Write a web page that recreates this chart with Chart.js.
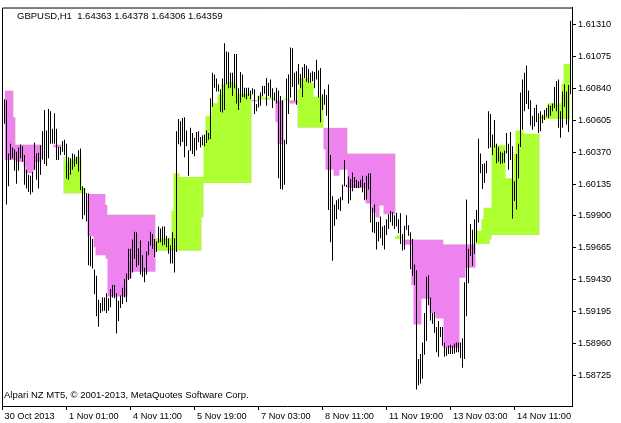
<!DOCTYPE html>
<html>
<head>
<meta charset="utf-8">
<script src="https://cdn.jsdelivr.net/npm/chart.js@4.4.1/dist/chart.umd.min.js"></script>
<style>
  html, body { margin: 0; padding: 0; background: #fff; }
  canvas { display: block; }
</style>
</head>
<body>
<canvas id="chart" width="621" height="423"></canvas>
<script>
// GBPUSD H1 bars, one per hour
const highs = [
  1.60759, 1.60752, 1.60360, 1.60432, 1.60403, 1.60389, 1.60372, 1.60403, 1.60425, 1.60413, 1.60348, 1.60239,
  1.60203, 1.60195, 1.60224, 1.60440, 1.60360, 1.60365, 1.60420, 1.60524, 1.60679, 1.60529, 1.60687, 1.60670,
  1.60541, 1.60655, 1.60541, 1.60408, 1.60408, 1.60452, 1.60461, 1.60432, 1.60331, 1.60324, 1.60360, 1.60353,
  1.60336, 1.60384, 1.60396, 1.60118, 1.60106, 1.60069, 1.60065, 1.59750, 1.59731, 1.59506, 1.59460, 1.59283,
  1.59259, 1.59300, 1.59300, 1.59331, 1.59295, 1.59363, 1.59392, 1.59392, 1.59331, 1.59276, 1.59314, 1.59372,
  1.59435, 1.59477, 1.59658, 1.59658, 1.59726, 1.59784, 1.59779, 1.59663, 1.59719, 1.59610, 1.59518, 1.59639,
  1.59711, 1.59784, 1.59767, 1.59731, 1.59711, 1.59823, 1.59808, 1.59823, 1.59823, 1.59755, 1.59735, 1.59682,
  1.59779, 1.59735, 1.60524, 1.60614, 1.60597, 1.60621, 1.60626, 1.60529, 1.60384, 1.60549, 1.60510, 1.60476,
  1.60517, 1.60524, 1.60481, 1.60493, 1.60500, 1.60529, 1.60510, 1.60766, 1.60953, 1.60941, 1.60912, 1.60868,
  1.60832, 1.60912, 1.61171, 1.61110, 1.61105, 1.60953, 1.60953, 1.61091, 1.61091, 1.60839, 1.60960, 1.60941,
  1.60844, 1.60844, 1.60844, 1.60824, 1.60839, 1.60832, 1.60723, 1.60783, 1.60808, 1.60856, 1.60856, 1.60916,
  1.60880, 1.60904, 1.60839, 1.60808, 1.60844, 1.60824, 1.60783, 1.60752, 1.60461, 1.60912, 1.60941, 1.61139,
  1.61134, 1.60953, 1.60965, 1.61018, 1.60945, 1.60994, 1.61018, 1.61008, 1.60984, 1.60953, 1.60965, 1.60960,
  1.61050, 1.60970, 1.60989, 1.60795, 1.60832, 1.60791, 1.60868, 1.60348, 1.60045, 1.59985, 1.60016, 1.60026,
  1.60040, 1.60130, 1.60311, 1.60130, 1.60190, 1.60171, 1.60219, 1.60186, 1.60166, 1.60154, 1.60166, 1.60195,
  1.60142, 1.60195, 1.60215, 1.60215, 1.59960, 1.59985, 1.59856, 1.59856, 1.59895, 1.59823, 1.59832, 1.59876,
  1.59912, 1.59936, 1.59929, 1.59905, 1.59924, 1.59876, 1.59919, 1.59767, 1.59827, 1.59905, 1.59832, 1.59779,
  1.59731, 1.59542, 1.59501, 1.58847, 1.58884, 1.58968, 1.59186, 1.59452, 1.59464, 1.59300, 1.59186, 1.59193,
  1.59082, 1.59126, 1.59082, 1.59082, 1.58968, 1.58932, 1.58944, 1.58951, 1.58944, 1.58961, 1.58968, 1.58968,
  1.58968, 1.59000, 1.59411, 1.60021, 1.59658, 1.59840, 1.59798, 1.59876, 1.59944, 1.60469, 1.60360, 1.60282,
  1.60287, 1.60307, 1.60670, 1.60650, 1.60500, 1.60607, 1.60432, 1.60408, 1.60372, 1.60365, 1.60379, 1.60510,
  1.60432, 1.60517, 1.60413, 1.60154, 1.60355, 1.60432, 1.60808, 1.60904, 1.60953, 1.61008, 1.60824, 1.60752,
  1.60638, 1.60694, 1.60718, 1.60655, 1.60670, 1.60645, 1.60679, 1.60694, 1.60718, 1.60711, 1.60728, 1.60849,
  1.60892, 1.60904, 1.60670, 1.60815, 1.60868, 1.60815, 1.60863, 1.61337
];
const lows = [
  1.60578, 1.59985, 1.60118, 1.60316, 1.60324, 1.60232, 1.60137, 1.60234, 1.60324, 1.60299, 1.60130, 1.60101,
  1.60077, 1.60057, 1.60074, 1.60239, 1.60166, 1.60101, 1.60203, 1.60316, 1.60282, 1.60268, 1.60324, 1.60432,
  1.60432, 1.60432, 1.60311, 1.60311, 1.60348, 1.60372, 1.60348, 1.60176, 1.60166, 1.60203, 1.60239, 1.60263,
  1.60282, 1.60227, 1.60089, 1.59876, 1.59905, 1.59859, 1.59537, 1.59530, 1.59513, 1.59324, 1.59162, 1.59084,
  1.59186, 1.59198, 1.59203, 1.59186, 1.59203, 1.59227, 1.59300, 1.59295, 1.59034, 1.59126, 1.59222, 1.59251,
  1.59300, 1.59266, 1.59428, 1.59440, 1.59484, 1.59585, 1.59525, 1.59537, 1.59469, 1.59452, 1.59411, 1.59469,
  1.59610, 1.59682, 1.59658, 1.59598, 1.59634, 1.59702, 1.59706, 1.59682, 1.59687, 1.59670, 1.59622, 1.59549,
  1.59549, 1.59484, 1.59634, 1.60428, 1.60413, 1.60445, 1.60331, 1.60413, 1.60195, 1.60379, 1.60355, 1.60340,
  1.60384, 1.60442, 1.60403, 1.60420, 1.60413, 1.60437, 1.60461, 1.60466, 1.60703, 1.60844, 1.60815, 1.60815,
  1.60667, 1.60662, 1.60679, 1.60868, 1.60839, 1.60844, 1.60783, 1.60839, 1.60728, 1.60679, 1.60735, 1.60776,
  1.60771, 1.60759, 1.60783, 1.60759, 1.60795, 1.60650, 1.60670, 1.60699, 1.60711, 1.60783, 1.60800, 1.60711,
  1.60783, 1.60771, 1.60694, 1.60747, 1.60728, 1.60178, 1.60098, 1.60094, 1.60130, 1.60428, 1.60650, 1.60771,
  1.60849, 1.60747, 1.60718, 1.60868, 1.60839, 1.60776, 1.60916, 1.60887, 1.60880, 1.60880, 1.60892, 1.60839,
  1.60904, 1.60771, 1.60590, 1.60679, 1.60718, 1.60638, 1.59944, 1.59706, 1.59571, 1.59827, 1.59876, 1.59948,
  1.59936, 1.60016, 1.60118, 1.60113, 1.59992, 1.60016, 1.60081, 1.60106, 1.60106, 1.60106, 1.60113, 1.60074,
  1.60016, 1.60021, 1.60094, 1.59852, 1.59779, 1.59774, 1.59653, 1.59711, 1.59735, 1.59682, 1.59653, 1.59760,
  1.59803, 1.59856, 1.59827, 1.59803, 1.59823, 1.59774, 1.59694, 1.59646, 1.59653, 1.59798, 1.59755, 1.59508,
  1.59460, 1.59392, 1.58622, 1.58654, 1.58666, 1.58702, 1.58879, 1.58980, 1.59242, 1.59130, 1.59106, 1.59041,
  1.58896, 1.58864, 1.59009, 1.58944, 1.58864, 1.58871, 1.58884, 1.58884, 1.58884, 1.58888, 1.58896, 1.58896,
  1.58855, 1.58782, 1.58847, 1.59162, 1.59404, 1.59605, 1.59532, 1.59622, 1.59706, 1.59852, 1.60215, 1.60098,
  1.60142, 1.60215, 1.60396, 1.60403, 1.60348, 1.60403, 1.60287, 1.60299, 1.60282, 1.60287, 1.60292, 1.60360,
  1.60239, 1.60311, 1.59881, 1.60009, 1.59948, 1.60178, 1.60408, 1.60534, 1.60670, 1.60723, 1.60687, 1.60566,
  1.60534, 1.60558, 1.60590, 1.60510, 1.60524, 1.60582, 1.60607, 1.60631, 1.60621, 1.60638, 1.60670, 1.60694,
  1.60670, 1.60549, 1.60476, 1.60549, 1.60703, 1.60573, 1.60517, 1.60795
];

// indicator: fast line and step line, area between them coloured by which is on top
const fastLine = [
  1.60311, 1.60311, 1.60311, 1.60311, 1.60311, 1.60311, 1.60299, 1.60299, 1.60299, 1.60299, 1.60263, 1.60215,
  1.60215, 1.60215, 1.60215, 1.60239, 1.60299, 1.60299, 1.60299, 1.60425, 1.60425, 1.60425, 1.60425, 1.60425,
  1.60425, 1.60403, 1.60403, 1.60403, 1.60403, 1.60408, 1.60336, 1.60299, 1.60299, 1.60316, 1.60316, 1.60316,
  1.60336, 1.60336, 1.60331, 1.60106, 1.60106, 1.60065, 1.59750, 1.59750, 1.59750, 1.59670, 1.59610, 1.59610,
  1.59610, 1.59610, 1.59610, 1.59585, 1.59307, 1.59307, 1.59307, 1.59307, 1.59307, 1.59307, 1.59307, 1.59307,
  1.59307, 1.59307, 1.59440, 1.59440, 1.59489, 1.59489, 1.59489, 1.59489, 1.59489, 1.59489, 1.59489, 1.59489,
  1.59489, 1.59489, 1.59489, 1.59489, 1.59735, 1.59735, 1.59735, 1.59735, 1.59735, 1.59735, 1.59735, 1.59735,
  1.59936, 1.60215, 1.60215, 1.60215, 1.60186, 1.60186, 1.60186, 1.60186, 1.60186, 1.60186, 1.60186, 1.60186,
  1.60186, 1.60186, 1.60186, 1.60186, 1.60432, 1.60638, 1.60638, 1.60638, 1.60730, 1.60730, 1.60730, 1.60795,
  1.60795, 1.60868, 1.60868, 1.60868, 1.60885, 1.60885, 1.60885, 1.60885, 1.60868, 1.60800, 1.60800, 1.60800,
  1.60800, 1.60800, 1.60800, 1.60800, 1.60745, 1.60745, 1.60745, 1.60786, 1.60786, 1.60786, 1.60771, 1.60771,
  1.60771, 1.60771, 1.60771, 1.60771, 1.60590, 1.60428, 1.60428, 1.60428, 1.60762, 1.60762, 1.60762, 1.60728,
  1.60728, 1.60728, 1.60728, 1.60832, 1.60916, 1.60916, 1.60916, 1.60916, 1.60916, 1.60880, 1.60880, 1.60778,
  1.60778, 1.60778, 1.60778, 1.60778, 1.60389, 1.60239, 1.60239, 1.60239, 1.60239, 1.60195, 1.60195, 1.60195,
  1.60239, 1.60239, 1.60239, 1.60239, 1.60106, 1.60106, 1.60106, 1.60106, 1.60106, 1.60106, 1.60106, 1.60106,
  1.60106, 1.59992, 1.59992, 1.59992, 1.59924, 1.59924, 1.59888, 1.59888, 1.59977, 1.59977, 1.59912, 1.59912,
  1.59912, 1.59912, 1.59912, 1.59912, 1.59755, 1.59755, 1.59755, 1.59726, 1.59687, 1.59687, 1.59687, 1.59687,
  1.59392, 1.59101, 1.59101, 1.59101, 1.59101, 1.59290, 1.59290, 1.59290, 1.59290, 1.59186, 1.59186, 1.59186,
  1.59145, 1.59145, 1.59145, 1.59145, 1.58927, 1.58927, 1.58927, 1.58927, 1.58927, 1.58927, 1.58927, 1.58927,
  1.59445, 1.59445, 1.59445, 1.59518, 1.59518, 1.59518, 1.59518, 1.59518, 1.59791, 1.59791, 1.59791, 1.59876,
  1.59960, 1.59960, 1.59960, 1.59960, 1.60420, 1.60420, 1.60420, 1.60420, 1.60420, 1.60420, 1.60420, 1.60178,
  1.60178, 1.60178, 1.60178, 1.60355, 1.60529, 1.60529, 1.60529, 1.60529, 1.60505, 1.60505, 1.60505, 1.60505,
  1.60505, 1.60505, 1.60505, 1.60505, 1.60638, 1.60638, 1.60638, 1.60638, 1.60730, 1.60730, 1.60730, 1.60730,
  1.60730, 1.60730, 1.60730, 1.60873, 1.61018, 1.61018, 1.61018, 1.61018
];
const stepLine = [
  1.60824, 1.60824, 1.60824, 1.60824, 1.60824, 1.60626, 1.60425, 1.60425, 1.60425, 1.60425, 1.60425, 1.60425,
  1.60425, 1.60425, 1.60425, 1.60425, 1.60425, 1.60425, 1.60425, 1.60425, 1.60425, 1.60425, 1.60425, 1.60425,
  1.60425, 1.60425, 1.60425, 1.60425, 1.60425, 1.60408, 1.60065, 1.60065, 1.60065, 1.60065, 1.60065, 1.60065,
  1.60065, 1.60065, 1.60065, 1.60065, 1.60065, 1.60065, 1.60062, 1.60062, 1.60062, 1.60062, 1.60062, 1.60062,
  1.60062, 1.60062, 1.60062, 1.59982, 1.59910, 1.59910, 1.59910, 1.59910, 1.59910, 1.59910, 1.59910, 1.59910,
  1.59910, 1.59910, 1.59910, 1.59910, 1.59910, 1.59910, 1.59910, 1.59910, 1.59910, 1.59910, 1.59910, 1.59910,
  1.59910, 1.59910, 1.59910, 1.59910, 1.59644, 1.59644, 1.59644, 1.59644, 1.59644, 1.59644, 1.59644, 1.59644,
  1.59644, 1.59644, 1.59644, 1.59644, 1.59644, 1.59644, 1.59644, 1.59644, 1.59644, 1.59644, 1.59644, 1.59644,
  1.59644, 1.59644, 1.59644, 1.59888, 1.60142, 1.60142, 1.60142, 1.60142, 1.60142, 1.60142, 1.60142, 1.60142,
  1.60142, 1.60142, 1.60142, 1.60142, 1.60142, 1.60142, 1.60142, 1.60142, 1.60142, 1.60142, 1.60142, 1.60142,
  1.60142, 1.60142, 1.60142, 1.60142, 1.60754, 1.60754, 1.60754, 1.60757, 1.60757, 1.60757, 1.60757, 1.60757,
  1.60757, 1.60757, 1.60757, 1.60757, 1.60752, 1.60752, 1.60752, 1.60752, 1.60754, 1.60754, 1.60754, 1.60752,
  1.60752, 1.60752, 1.60752, 1.60549, 1.60549, 1.60549, 1.60549, 1.60549, 1.60549, 1.60549, 1.60549, 1.60549,
  1.60549, 1.60549, 1.60549, 1.60549, 1.60549, 1.60549, 1.60549, 1.60549, 1.60549, 1.60549, 1.60549, 1.60549,
  1.60549, 1.60549, 1.60549, 1.60549, 1.60360, 1.60360, 1.60360, 1.60360, 1.60360, 1.60360, 1.60360, 1.60360,
  1.60360, 1.60360, 1.60360, 1.60360, 1.60360, 1.60360, 1.60360, 1.60360, 1.60360, 1.60360, 1.60360, 1.60360,
  1.60360, 1.60360, 1.60360, 1.60360, 1.59731, 1.59731, 1.59731, 1.59726, 1.59726, 1.59726, 1.59726, 1.59726,
  1.59726, 1.59726, 1.59726, 1.59726, 1.59726, 1.59726, 1.59726, 1.59726, 1.59726, 1.59726, 1.59726, 1.59726,
  1.59726, 1.59726, 1.59726, 1.59726, 1.59692, 1.59692, 1.59692, 1.59692, 1.59692, 1.59692, 1.59692, 1.59692,
  1.59692, 1.59692, 1.59692, 1.59692, 1.59692, 1.59692, 1.59692, 1.59692, 1.59692, 1.59692, 1.59694, 1.59694,
  1.59694, 1.59694, 1.59694, 1.59726, 1.59760, 1.59760, 1.59760, 1.59760, 1.59760, 1.59760, 1.59760, 1.59760,
  1.59760, 1.59760, 1.59760, 1.59760, 1.59760, 1.59760, 1.59760, 1.59760, 1.59760, 1.59760, 1.59760, 1.59760,
  1.59760, 1.59760, 1.59760, 1.59760, 1.60614, 1.60614, 1.60614, 1.60614, 1.60614, 1.60614, 1.60614, 1.60614,
  1.60614, 1.60614, 1.60614, 1.60614, 1.60614, 1.60614, 1.60614, 1.60614
];

const priceTicks = [1.58725, 1.58960, 1.59195, 1.59430, 1.59665, 1.59900, 1.60135, 1.60370, 1.60605, 1.60840, 1.61075, 1.61310];
const timeTickBars = [-1.25, 31, 63, 95, 127, 159, 191, 223, 255];
const timeTickLabels = ['30 Oct 2013', '1 Nov 01:00', '4 Nov 11:00', '5 Nov 19:00', '7 Nov 03:00', '8 Nov 11:00', '11 Nov 19:00', '13 Nov 03:00', '14 Nov 11:00'];

const headerText = 'GBPUSD,H1  1.64363 1.64378 1.64306 1.64359';
const footerText = 'Alpari NZ MT5, \u00a9 2001-2013, MetaQuotes Software Corp.';

const UP_COLOR = '#adff2f';
const DOWN_COLOR = '#ee82ee';
const FAMILY = '"Liberation Sans", Arial, sans-serif';
const AXIS_FONT = { family: FAMILY, size: 9.2 };
const NOTE_FONT = '9.5px ' + FAMILY;

const framePlugin = {
    id: 'mtFrame',
    afterDraw(chart) {
        const { ctx, chartArea } = chart;
        ctx.save();
        ctx.strokeStyle = '#000';
        ctx.lineWidth = 1;
        ctx.beginPath();
        ctx.moveTo(chartArea.left + 0.5, chartArea.bottom);
        ctx.lineTo(chartArea.left + 0.5, chartArea.top + 0.5);
        ctx.lineTo(chartArea.right, chartArea.top + 0.5);
        ctx.stroke();
        ctx.fillStyle = '#000';
        ctx.font = NOTE_FONT;
        ctx.textBaseline = 'alphabetic';
        ctx.fillText(headerText, chartArea.left + 15, chartArea.top + 11.5);
        ctx.fillText(footerText, chartArea.left + 2, chartArea.bottom - 8.5);
        ctx.restore();
    }
};

const canvas = document.getElementById('chart');
new Chart(canvas.getContext('2d'), {
    type: 'bar',
    data: {
        datasets: [
            {
                type: 'bar',
                data: highs.map((h, i) => ({ x: i, y: [lows[i], h] })),
                backgroundColor: '#000',
                borderWidth: 0,
                barThickness: 1,
                inflateAmount: 0,
                order: 0
            },
            {
                type: 'line',
                data: fastLine.map((v, i) => ({ x: i, y: v })),
                borderColor: 'rgba(0,0,0,0)',
                borderWidth: 0,
                pointRadius: 0,
                stepped: 'middle',
                fill: { target: '+1', above: UP_COLOR, below: DOWN_COLOR },
                order: 1
            },
            {
                type: 'line',
                data: stepLine.map((v, i) => ({ x: i, y: v })),
                borderColor: 'rgba(0,0,0,0)',
                borderWidth: 0,
                pointRadius: 0,
                stepped: 'middle',
                fill: false,
                order: 2
            }
        ]
    },
    options: {
        responsive: false,
        animation: false,
        devicePixelRatio: 1,
        events: [],
        layout: { padding: { left: 2, top: 2, right: 0, bottom: 0 } },
        plugins: {
            legend: { display: false },
            tooltip: { enabled: false },
            title: { display: false }
        },
        scales: {
            x: {
                type: 'linear',
                position: 'bottom',
                min: -1.25,
                max: 283.75,
                offset: false,
                afterBuildTicks: (scale) => {
                    scale.ticks = timeTickBars.map((v) => ({ value: v }));
                },
                afterFit: (scale) => {
                    scale.height = 17;
                },
                grid: {
                    offset: false,
                    drawOnChartArea: false,
                    drawTicks: true,
                    tickLength: 4,
                    color: '#000'
                },
                border: { display: true, color: '#000' },
                ticks: {
                    autoSkip: false,
                    maxRotation: 0,
                    align: 'start',
                    padding: 1,
                    color: '#000',
                    font: AXIS_FONT,
                    callback: (value, index) => ' ' + timeTickLabels[index]
                }
            },
            y: {
                type: 'linear',
                position: 'right',
                min: 1.58501,
                max: 1.61434,
                afterBuildTicks: (scale) => {
                    scale.ticks = priceTicks.map((v) => ({ value: v }));
                },
                afterFit: (scale) => {
                    scale.width = 49;
                },
                grid: {
                    drawOnChartArea: false,
                    drawTicks: true,
                    tickLength: 4,
                    color: '#000'
                },
                border: { display: true, color: '#000' },
                ticks: {
                    autoSkip: false,
                    padding: 2,
                    color: '#000',
                    font: AXIS_FONT,
                    callback: (value) => value.toFixed(5)
                }
            }
        }
    },
    plugins: [framePlugin]
});
</script>
</body>
</html>
